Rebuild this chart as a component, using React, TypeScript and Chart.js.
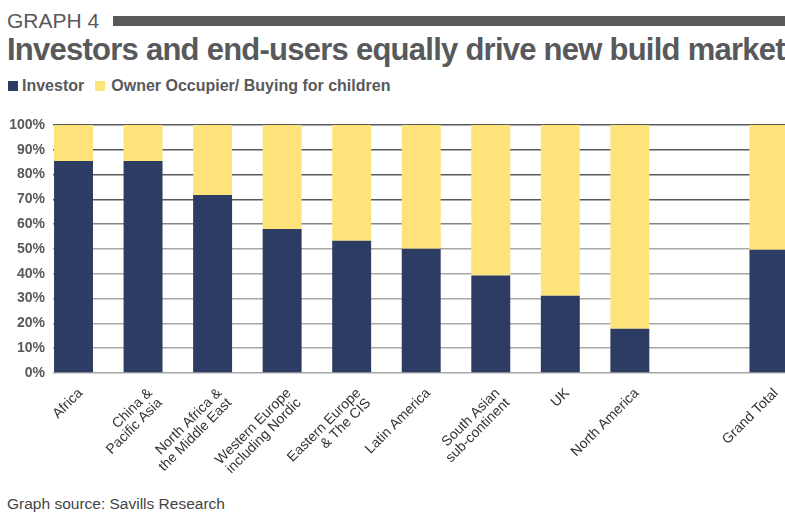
import React, { useEffect, useRef } from 'react';
import { Chart, registerables } from 'chart.js';

Chart.register(...registerables);

const categories: (string | string[])[] = [
  'Africa',
  ['China &', 'Pacific Asia'],
  ['North Africa &', 'the Middle East'],
  ['Western Europe', 'including Nordic'],
  ['Eastern Europe', '& The CIS'],
  'Latin America',
  ['South Asian', 'sub-continent'],
  'UK',
  'North America',
  '',
  'Grand Total',
];

const investor: (number | null)[] = [85.5, 85.5, 71.8, 58.1, 53.3, 50.1, 39.3, 31.1, 17.8, null, 49.7];
const ownerOccupier: (number | null)[] = [14.5, 14.5, 28.2, 41.9, 46.7, 49.9, 60.7, 68.9, 82.2, null, 50.3];

const seriesNames = ['Investor', 'Owner Occupier/ Buying for children'];
const seriesColors = ['#2c3c62', '#fee27a'];

const toPoints = (arr: (number | null)[]) =>
  arr.map((v, i) => (v == null ? null : { x: i, y: v })).filter((p) => p !== null) as { x: number; y: number }[];

const FONT = '"Liberation Sans", Arial, Helvetica, sans-serif';
const GREY = '#58595b';

export default function App() {
  const ref = useRef<HTMLCanvasElement>(null);

  useEffect(() => {
    document.body.style.margin = '0';
    const chart = new Chart(ref.current!, {
      type: 'bar',
      data: {
        datasets: [
          {
            label: seriesNames[0],
            data: toPoints(investor),
            backgroundColor: seriesColors[0],
            barPercentage: 0.56,
            categoryPercentage: 1,
          },
          {
            label: seriesNames[1],
            data: toPoints(ownerOccupier),
            backgroundColor: seriesColors[1],
            barPercentage: 0.56,
            categoryPercentage: 1,
          },
        ],
      },
      options: {
        responsive: false,
        animation: false,
        layout: { padding: { top: 20, left: 0, right: 0, bottom: 0 } },
        plugins: {
          legend: { display: false },
          tooltip: { enabled: false },
          title: { display: false },
        },
        scales: {
          x: {
            type: 'linear',
            stacked: true,
            offset: false,
            min: -0.295,
            max: 10.95,
            grid: { display: false, drawTicks: false, offset: false },
            border: { display: false },
            afterFit: (scale: any) => {
              scale.height = 107;
              scale.paddingLeft = 0;
              scale.paddingRight = 0;
            },
            ticks: {
              stepSize: 1,
              includeBounds: false,
              autoSkip: false,
              minRotation: 45,
              maxRotation: 45,
              padding: 13,
              labelOffset: 7,
              color: '#333',
              font: { family: FONT, size: 14, lineHeight: 1.0 },
              callback: (value: any) => {
                const i = Math.round(Number(value));
                return categories[i] ?? '';
              },
            },
          },
          y: {
            stacked: true,
            min: 0,
            max: 100,
            border: { display: false },
            afterFit: (scale: any) => {
              scale.width = 53;
            },
            grid: {
              drawTicks: false,
              lineWidth: 1.5,
              color: (ctx: any) => {
                const v = ctx.tick ? ctx.tick.value : 0;
                if (v >= 70) return '#5b5b5b';
                if (v === 60) return '#858585';
                return '#a8a8a8';
              },
            },
            ticks: {
              stepSize: 10,
              padding: 8,
              color: GREY,
              font: { family: FONT, size: 14, weight: 'bold' },
              callback: (value: any) => `${value}%`,
            },
          },
        },
      },
    } as any);
    return () => chart.destroy();
  }, []);

  return (
    <div
      style={{
        position: 'relative',
        width: 785,
        height: 516,
        overflow: 'hidden',
        background: '#fff',
        fontFamily: FONT,
      }}
    >
      <div style={{ position: 'absolute', left: 7, top: 9, fontSize: 21, lineHeight: '24px', color: GREY }}>
        GRAPH 4
      </div>
      <div style={{ position: 'absolute', left: 113, top: 16, width: 700, height: 10, background: GREY }} />
      <div
        style={{
          position: 'absolute',
          left: 7,
          top: 32,
          fontSize: 31,
          lineHeight: '36px',
          fontWeight: 'bold',
          color: GREY,
          whiteSpace: 'nowrap',
          letterSpacing: '-0.75px',
        }}
      >
        Investors and end-users equally drive new build market
      </div>
      <div
        style={{
          position: 'absolute',
          left: 8,
          top: 76,
          display: 'flex',
          alignItems: 'center',
          fontSize: 16,
          fontWeight: 'bold',
          color: GREY,
          whiteSpace: 'nowrap',
          lineHeight: '19px',
        }}
      >
        <span style={{ width: 10, height: 10, background: seriesColors[0], display: 'inline-block', marginRight: 4 }} />
        <span style={{ marginRight: 11 }}>{seriesNames[0]}</span>
        <span style={{ width: 10, height: 10, background: seriesColors[1], display: 'inline-block', marginRight: 6 }} />
        <span>{seriesNames[1]}</span>
      </div>
      <div style={{ position: 'absolute', left: 0, top: 105 }}>
        <canvas ref={ref} width={835} height={375} style={{ width: 835, height: 375, display: 'block' }} />
      </div>
      <div
        style={{
          position: 'absolute',
          left: 7,
          top: 495,
          fontSize: 15.5,
          lineHeight: '18px',
          color: '#444',
          whiteSpace: 'nowrap',
        }}
      >
        Graph source: Savills Research
      </div>
    </div>
  );
}
